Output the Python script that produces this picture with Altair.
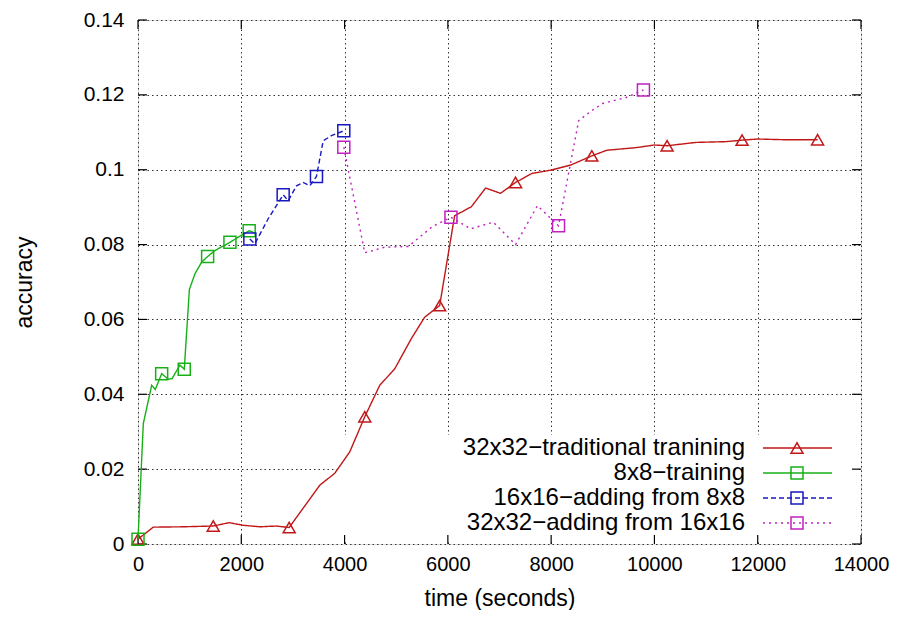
import altair as alt
import pandas as pd

# ---------------- data ----------------
series_names = [
    "32x32\u2212traditional tranining",
    "8x8\u2212training",
    "16x16\u2212adding from 8x8",
    "32x32\u2212adding from 16x16",
]

red_t = [0, 296, 876, 1457, 1766, 2037, 2360, 2682, 2927, 3520, 3810, 4100, 4391,
         4681, 4971, 5294, 5551, 5841, 6131, 6454, 6731, 7021, 7311, 7627, 8002,
         8389, 8788, 9077, 9646, 10000, 10245, 10807, 11387, 11697, 11999, 12547, 13159]
red_acc = [0.0013, 0.0045, 0.0046, 0.0048, 0.0057, 0.0050, 0.0046, 0.0048, 0.0044,
           0.0157, 0.0189, 0.0246, 0.0340, 0.0424, 0.0468, 0.0549, 0.0606, 0.0637,
           0.0877, 0.0901, 0.0951, 0.0937, 0.0966, 0.0990, 0.0999, 0.1013, 0.1037,
           0.1052, 0.1059, 0.1066, 0.1064, 0.1073, 0.1075, 0.1079, 0.1082, 0.1080, 0.1080]
red_mark = [1, 0, 0, 1, 0, 0, 0, 0, 1, 0, 0, 0, 1, 0, 0, 0, 0, 1, 0, 0, 0, 0, 1, 0, 0,
            0, 1, 0, 0, 0, 1, 0, 0, 1, 0, 0, 1]

green_t = [0, 103, 265, 335, 458, 590, 660, 812, 896, 995, 1103, 1232, 1348, 1489,
           1780, 2005, 2153, 2263]
green_acc = [0.0013, 0.0322, 0.0424, 0.0413, 0.0455, 0.0440, 0.0442, 0.0478, 0.0467,
             0.0680, 0.0722, 0.0753, 0.0768, 0.0784, 0.0806, 0.0825, 0.0837, 0.0831]
green_mark = [1, 0, 0, 0, 1, 0, 0, 0, 1, 0, 0, 0, 1, 0, 1, 0, 1, 0]

blue_t = [2166, 2263, 2521, 2811, 2908, 3069, 3198, 3327, 3456, 3585, 3746, 3985]
blue_acc = [0.0815, 0.0802, 0.0869, 0.0933, 0.0917, 0.0957, 0.0966, 0.0957, 0.0982,
            0.1077, 0.1091, 0.1104]
blue_mark = [1, 0, 0, 1, 0, 0, 0, 0, 1, 0, 0, 1]

mag_t = [3985, 4391, 4778, 5235, 5700, 6060, 6440, 6880, 7311, 7735, 8143, 8533,
         8775, 9000, 9452, 9787]
mag_acc = [0.1060, 0.0778, 0.0793, 0.0795, 0.0848, 0.0873, 0.0842, 0.0860, 0.0800,
           0.0904, 0.0850, 0.1131, 0.1157, 0.1177, 0.1193, 0.1213]
mag_mark = [1, 0, 0, 0, 0, 1, 0, 0, 0, 0, 1, 0, 0, 0, 0, 1]

x_ticks = [0, 2000, 4000, 6000, 8000, 10000, 12000, 14000]
y_ticks = [0, 0.02, 0.04, 0.06, 0.08, 0.10, 0.12, 0.14]

# ---------------- styles ----------------
colors = ["#c01818", "#18b018", "#1818c0", "#c020c0"]
dashes = [[1, 0], [1, 0], [5, 3], [2, 4]]
shapes = ["triangle-up", "square", "square", "square"]
FONT = "Liberation Sans"
W, H = 723, 524

all_series = [
    (red_t, red_acc, red_mark),
    (green_t, green_acc, green_mark),
    (blue_t, blue_acc, blue_mark),
    (mag_t, mag_acc, mag_mark),
]

rows = []
for name, (ts, accs, marks) in zip(series_names, all_series):
    for i, (t, a, m) in enumerate(zip(ts, accs, marks)):
        rows.append({"series": name, "t": t, "acc": a, "marker": m, "order": i})
df = pd.DataFrame(rows)

xscale = alt.Scale(domain=[0, 14000], nice=False, zero=False)
yscale = alt.Scale(domain=[0, 0.14], nice=False, zero=False)

x_axis = alt.Axis(values=x_ticks, format="d", grid=True, gridDash=[1.5, 3],
                  gridColor="#333", gridWidth=1, tickSize=0, domain=False,
                  labelPadding=10, labelFont=FONT, labelFontSize=20,
                  labelColor="black", labelFlush=False, labelOverlap=False,
                  title="time (seconds)", titleFont=FONT, titleFontSize=23,
                  titleFontWeight="normal", titleColor="black", titleY=43,
                  titleBaseline="top")
y_axis = alt.Axis(values=y_ticks, labelExpr="format(datum.value, '~g')",
                  grid=True, gridDash=[1.5, 3], gridColor="#333", gridWidth=1,
                  tickSize=0, domain=False, labelPadding=14, labelFont=FONT,
                  labelFontSize=21, labelColor="black", labelFlush=False,
                  labelOverlap=False, title="accuracy", titleFont=FONT,
                  titleFontSize=23, titleFontWeight="normal", titleColor="black",
                  titleX=-102, titleY=H / 2, titleAngle=-90, titleBaseline="bottom")

ticks_x = pd.DataFrame({"t": x_ticks})
ticks_y = pd.DataFrame({"v": y_ticks})

# base layer carrying the axes and grid
base = alt.Chart(ticks_x).mark_point(opacity=0).encode(
    x=alt.X("t:Q", scale=xscale, axis=x_axis),
    y=alt.Y("t:Q", scale=yscale, axis=y_axis),
)

# opaque key box (hides the grid behind the key)
key_box = alt.Chart(ticks_x.head(1)).mark_rect(color="white").encode(
    x=alt.value(202), x2=alt.value(721), y=alt.value(415), y2=alt.value(522)
)

# inward ticks on all four sides
tick_len = 9
tb = alt.Chart(ticks_x).mark_rule(color="black", strokeWidth=1.2).encode(
    x=alt.X("t:Q", scale=xscale), y=alt.value(H), y2=alt.value(H - tick_len))
tt = alt.Chart(ticks_x).mark_rule(color="black", strokeWidth=1.2).encode(
    x=alt.X("t:Q", scale=xscale), y=alt.value(0), y2=alt.value(tick_len))
tl = alt.Chart(ticks_y).mark_rule(color="black", strokeWidth=1.2).encode(
    y=alt.Y("v:Q", scale=yscale), x=alt.value(0), x2=alt.value(tick_len))
tr = alt.Chart(ticks_y).mark_rule(color="black", strokeWidth=1.2).encode(
    y=alt.Y("v:Q", scale=yscale), x=alt.value(W), x2=alt.value(W - tick_len))

layers = [base, key_box, tb, tt, tl, tr]

for name, col, dash, shp in zip(series_names, colors, dashes, shapes):
    sub = alt.Chart(df).transform_filter(alt.datum.series == name)
    line = sub.mark_line(color=col, strokeWidth=1.4, strokeDash=dash).encode(
        x=alt.X("t:Q", scale=xscale), y=alt.Y("acc:Q", scale=yscale),
        order="order:Q")
    pts = sub.transform_filter(alt.datum.marker == 1).mark_point(
        shape=shp, size=144, filled=False, color=col, strokeWidth=1.5,
        opacity=1).encode(
        x=alt.X("t:Q", scale=xscale), y=alt.Y("acc:Q", scale=yscale))
    layers += [line, pts]

# key (text on the left, sample on the right, like gnuplot)
for i, (name, col, dash, shp) in enumerate(zip(series_names, colors, dashes, shapes)):
    ldf = pd.DataFrame({"label": [name]})
    yy = 428 + 25 * i
    txt = alt.Chart(ldf).mark_text(align="right", baseline="middle", font=FONT,
                                   fontSize=24, color="black").encode(
        x=alt.value(607), y=alt.value(yy), text="label:N")
    rl = alt.Chart(ldf).mark_rule(color=col, strokeWidth=1.4, strokeDash=dash).encode(
        x=alt.value(625), x2=alt.value(694), y=alt.value(yy))
    pt = alt.Chart(ldf).mark_point(shape=shp, size=144, filled=False, color=col,
                                   strokeWidth=1.5, opacity=1).encode(
        x=alt.value(659), y=alt.value(yy))
    layers += [txt, rl, pt]

chart = alt.layer(*layers).properties(
    width=W, height=H,
    autosize=alt.AutoSizeParams(type="none"),
    padding={"left": 130, "top": 12, "right": 30, "bottom": 66},
).configure_view(stroke="black", strokeWidth=1.5).configure(background="white")

chart.save("out.html", embed_options={"renderer": "svg", "actions": False})
